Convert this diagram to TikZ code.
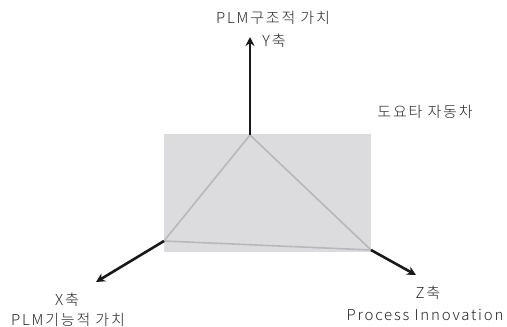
\documentclass[tikz,border=0pt]{standalone}
\usepackage{fontspec}
\setmainfont[LetterSpace=12]{Noto Sans CJK KR Light}
\usetikzlibrary{arrows.meta}
\definecolor{boxfill}{RGB}{220,220,222}
\definecolor{triline}{RGB}{184,184,186}
\begin{document}
\begin{tikzpicture}[x=1pt,y=-1pt,
  axis/.style={line width=2.6pt,draw=black!90,-{Stealth[length=9pt,width=9pt]}},
  tri/.style={line width=1.6pt,draw=triline,line join=round},
  lbl/.style={font=\fontsize{15}{17}\selectfont,text=black!85,inner sep=0pt}]
\useasboundingbox (0,0) rectangle (507,327);
\fill[boxfill] (164,134) rectangle (371,252);
\coordinate (T) at (250,135);
\coordinate (L) at (164,241);
\coordinate (R) at (371,250);
\coordinate (Ytip) at (250,37);
\coordinate (Xtip) at (96,282);
\coordinate (Ztip) at (416,275);
\draw[tri] (T) -- (L) -- (R) -- cycle;
\draw[axis] (T) -- (Ytip);
\draw[axis] (L) -- (Xtip);
\draw[axis] (R) -- (Ztip);
\node[lbl] (yt) at (273,18) {PLM구조적 가치};
\node[lbl] (yl) at (274,41) {Y축};
\node[lbl] (toy) at (425,112) {도요타 자동차};
\node[lbl] (xl) at (67,300) {X축};
\node[lbl] (xt) at (68,320) {PLM기능적 가치};
\node[lbl] (zl) at (428,293) {Z축};
\node[lbl] (zt) at (425,315) {Process Innovation};
\end{tikzpicture}
\end{document}
